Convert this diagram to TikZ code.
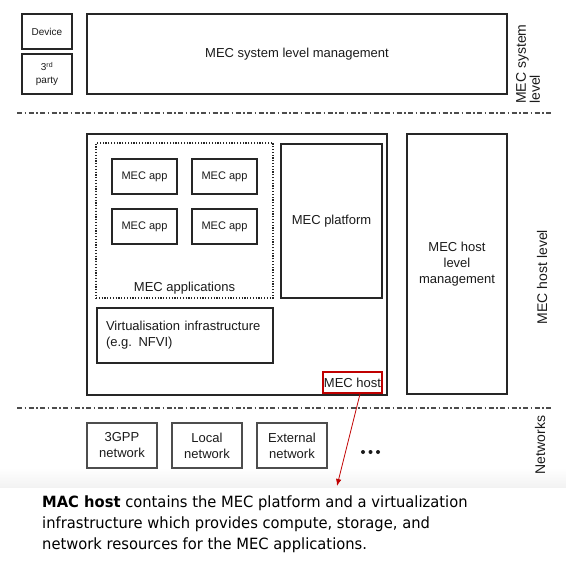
\documentclass[tikz,border=0pt]{standalone}
\usepackage{fontspec}
\setmainfont{Liberation Sans}
\newfontfamily\notefont[FakeStretch=0.95]{DejaVu Sans}
\usetikzlibrary{arrows.meta}
\definecolor{boxline}{HTML}{262626}
\definecolor{netline}{HTML}{4D4D4D}
\definecolor{hostred}{HTML}{C00000}
\definecolor{txt}{HTML}{1A1A1A}
\begin{document}
\begin{tikzpicture}[x=1pt,y=-1pt,
  box/.style={draw=boxline, line width=1.4pt, inner sep=0pt, align=center,
    text=txt, font=\fontsize{13}{16}\selectfont},
  appbox/.style={box, minimum width=65, minimum height=35, font=\fontsize{11}{13}\selectfont},
  netbox/.style={box, draw=netline, line width=1.2pt, minimum width=70, minimum height=45},
  dotbox/.style={draw=boxline, line width=1.2pt, dash pattern=on 1.2pt off 1.6pt, inner sep=0pt},
  rotlabel/.style={rotate=90, inner sep=0pt, text=txt, font=\fontsize{14}{14}\selectfont},
  sepline/.style={draw=black!70, line width=1.3pt, dash pattern=on 5pt off 2.5pt on 1.5pt off 2.5pt},
  redarrow/.style={draw=hostred, line width=0.8pt, -{Latex[length=7pt,width=5.5pt]}}
]
\useasboundingbox (0,0) rectangle (566,562);
\shade[top color=white, bottom color=black!5] (0,468) rectangle (566,487);

% system level
\node[box, minimum width=50, minimum height=35, font=\fontsize{10}{12}\selectfont] (device) at (47,31.5) {Device};
\node[box, minimum width=50, minimum height=40, font=\fontsize{10}{13}\selectfont] (third) at (47,74) {3\textsuperscript{rd}\\party};
\node[box, minimum width=420, minimum height=80] (sysmgmt) at (297,54) {MEC system level management};
\node[rotlabel, anchor=north west, align=left] (syslabel) at (516,104) {MEC system\\level};

\coordinate (sepAl) at (17,113);
\coordinate (sepAr) at (552,113);
\draw[sepline] (sepAl) -- (sepAr);

% host level
\node[box, minimum width=300, minimum height=261] (host) at (237,264.5) {};
\node[dotbox, minimum width=177, minimum height=155] (apps) at (184.5,220.5) {};
\node[appbox] (app1) at (144.5,176.5) {MEC app};
\node[appbox] (app2) at (224.5,176.5) {MEC app};
\node[appbox] (app3) at (144.5,226.5) {MEC app};
\node[appbox] (app4) at (224.5,226.5) {MEC app};
\node[inner sep=0pt, text=txt, font=\fontsize{13}{16}\selectfont] (appslabel) at (184.5,288) {MEC applications};
\node[box, minimum width=101, minimum height=154] (platform) at (331.5,221) {MEC platform};
\node[box, minimum height=55, inner xsep=9pt, text width=158pt, align=left] (virt) at (185,335.5) {Virtualisation infrastructure\\(e.g. NFVI)};
\node[draw=hostred, line width=2pt, minimum width=59, minimum height=21, inner sep=0pt, text=txt, font=\fontsize{13}{16}\selectfont] (mechost) at (352.5,382.5) {MEC host};
\node[box, minimum width=100, minimum height=260] (hostmgmt) at (457,264) {MEC host\\level\\management};
\node[rotlabel] (hostlabel) at (542,277) {MEC host level};

\coordinate (sepBl) at (17,408);
\coordinate (sepBr) at (552,408);
\draw[sepline] (sepBl) -- (sepBr);

% networks
\node[netbox] (net3gpp) at (122,445.5) {3GPP\\network};
\node[netbox] (netlocal) at (207,445.5) {Local\\network};
\node[netbox] (netext) at (292,445.5) {External\\network};
\fill[txt] (363,452) circle (2);
\fill[txt] (370.5,452) circle (2);
\fill[txt] (378,452) circle (2);
\node[rotlabel] (netlabel) at (540,445) {Networks};

% callout
\coordinate (tip) at (337,486);
\draw[redarrow] ([xshift=7.5pt]mechost.south) -- (tip);
\node[anchor=north west, inner sep=0pt, align=left, text=black,
  font=\notefont\fontsize{15.5}{21}\selectfont] (note) at (42,496)
  {\textbf{MAC host} contains the MEC platform and a virtualization\\
   infrastructure which provides compute, storage, and\\
   network resources for the MEC applications.};
\end{tikzpicture}
\end{document}
